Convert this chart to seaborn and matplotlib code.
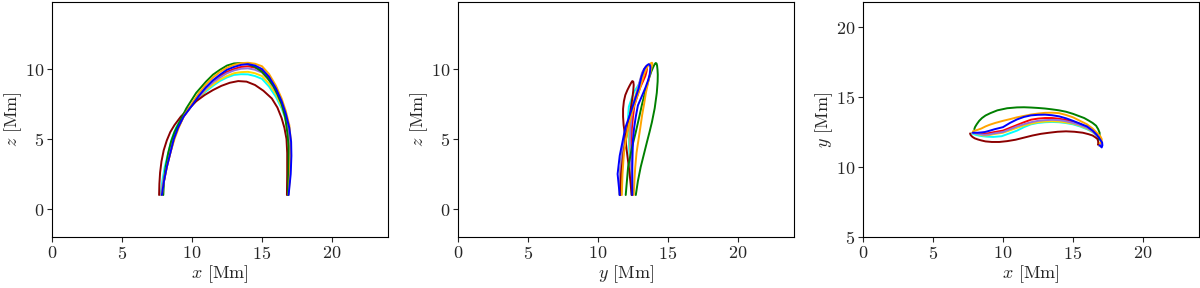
import matplotlib
matplotlib.use("Agg")
import matplotlib.pyplot as plt
import seaborn as sns

# ---- data: 3D field-line samples (Mm) ----
darkred_x = [7.65, 7.67, 7.72, 7.82, 7.98, 8.2, 8.45, 8.75, 9.2, 9.74, 10.3, 10.9, 11.5, 12.1, 12.7, 13.3, 13.9, 14.5, 15.1, 15.7, 16.1, 16.4, 16.6, 16.75, 16.8, 16.8, 16.78]
darkred_y = [12.4, 12.33, 12.25, 12.15, 12.05, 11.97, 11.9, 11.83, 11.79, 11.79, 11.85, 11.95, 12.1, 12.25, 12.37, 12.45, 12.52, 12.55, 12.52, 12.45, 12.35, 12.25, 12.12, 12.0, 11.82, 11.65, 11.6]
darkred_z = [1.0, 1.8, 2.6, 3.4, 4.2, 4.9, 5.5, 6.0, 6.6, 7.15, 7.7, 8.14, 8.5, 8.8, 9.02, 9.14, 9.1, 8.86, 8.45, 7.9, 7.25, 6.5, 5.8, 5.0, 4.0, 2.5, 1.0]

red_x = [7.85, 8.0, 8.2, 8.45, 8.7, 9.0, 9.4, 10.0, 10.5, 11.0, 11.5, 12.0, 12.5, 13.0, 13.5, 14.0, 14.5, 15.0, 15.5, 16.0, 16.4, 16.65, 16.9, 17.0, 17.02, 17.0, 16.85]
red_y = [12.45, 12.42, 12.39, 12.37, 12.38, 12.42, 12.5, 12.6, 12.8, 13.0, 13.2, 13.38, 13.46, 13.5, 13.5, 13.45, 13.36, 13.25, 13.08, 12.85, 12.58, 12.35, 12.05, 11.85, 11.7, 11.58, 11.55]
red_z = [1.0, 2.0, 3.0, 4.0, 5.0, 5.8, 6.6, 7.4, 8.05, 8.65, 9.1, 9.5, 9.8, 10.0, 10.15, 10.2, 10.1, 9.9, 9.3, 8.5, 7.6, 6.8, 5.8, 4.8, 3.8, 2.5, 1.0]

cyan_x = [7.75, 7.88, 8.05, 8.3, 8.55, 8.85, 9.3, 9.9, 10.45, 11.0, 11.5, 12.0, 12.5, 13.0, 13.5, 14.0, 14.5, 15.0, 15.5, 16.0, 16.4, 16.65, 16.9, 17.0, 17.02, 17.0, 16.85]
cyan_y = [12.4, 12.36, 12.3, 12.24, 12.2, 12.17, 12.15, 12.2, 12.4, 12.6, 12.85, 13.05, 13.15, 13.2, 13.22, 13.2, 13.14, 13.05, 12.9, 12.7, 12.5, 12.28, 12.0, 11.82, 11.68, 11.58, 11.55]
cyan_z = [1.0, 2.0, 3.0, 4.0, 5.0, 5.8, 6.6, 7.3, 7.9, 8.4, 8.8, 9.15, 9.4, 9.58, 9.63, 9.62, 9.5, 9.3, 8.75, 8.0, 7.2, 6.5, 5.5, 4.5, 3.5, 2.5, 1.0]

gold_x = [7.8, 7.95, 8.15, 8.4, 8.65, 8.95, 9.35, 10.0, 10.5, 11.0, 11.5, 12.0, 12.5, 13.0, 13.5, 14.0, 14.5, 15.0, 15.5, 16.0, 16.4, 16.65, 16.9, 17.0, 17.02, 17.0, 16.85]
gold_y = [12.45, 12.42, 12.36, 12.3, 12.25, 12.27, 12.35, 12.45, 12.62, 12.8, 12.96, 13.1, 13.2, 13.25, 13.27, 13.25, 13.18, 13.1, 12.95, 12.75, 12.52, 12.3, 12.05, 11.85, 11.7, 11.58, 11.55]
gold_z = [1.0, 2.0, 3.0, 4.0, 5.0, 5.8, 6.6, 7.4, 7.95, 8.5, 8.9, 9.25, 9.5, 9.7, 9.78, 9.8, 9.7, 9.5, 8.95, 8.2, 7.35, 6.6, 5.6, 4.6, 3.6, 2.5, 1.0]

purple_x = [7.8, 7.95, 8.15, 8.4, 8.65, 8.95, 9.35, 10.0, 10.5, 11.0, 11.5, 12.0, 12.5, 13.0, 13.5, 14.0, 14.5, 15.0, 15.5, 16.0, 16.4, 16.65, 16.9, 17.0, 17.02, 17.0, 16.85]
purple_y = [12.45, 12.42, 12.38, 12.34, 12.3, 12.32, 12.4, 12.5, 12.7, 12.9, 13.06, 13.2, 13.3, 13.35, 13.37, 13.35, 13.27, 13.15, 13.0, 12.8, 12.55, 12.3, 12.05, 11.85, 11.7, 11.58, 11.55]
purple_z = [1.0, 2.0, 3.0, 4.0, 5.0, 5.8, 6.6, 7.4, 8.0, 8.6, 9.05, 9.4, 9.7, 9.9, 10.02, 10.05, 9.95, 9.75, 9.2, 8.4, 7.5, 6.7, 5.7, 4.7, 3.7, 2.5, 1.0]

green_x = [7.95, 8.0, 8.12, 8.3, 8.5, 8.75, 9.1, 9.6, 10.3, 11.0, 11.5, 12.0, 12.5, 13.0, 13.5, 14.0, 14.5, 15.0, 15.4, 15.8, 16.1, 16.4, 16.65, 16.8, 16.9, 16.9, 16.85]
green_y = [12.7, 12.85, 13.05, 13.3, 13.5, 13.68, 13.85, 14.05, 14.2, 14.26, 14.27, 14.25, 14.22, 14.18, 14.12, 14.05, 13.95, 13.8, 13.65, 13.5, 13.33, 13.15, 12.95, 12.7, 12.45, 12.15, 11.98]
green_z = [1.0, 2.0, 3.0, 4.0, 4.8, 5.5, 6.2, 7.2, 8.3, 9.1, 9.6, 9.95, 10.25, 10.4, 10.43, 10.35, 10.15, 9.8, 9.35, 8.8, 8.2, 7.5, 6.6, 5.5, 4.5, 3.0, 1.0]

orange_x = [7.85, 8.0, 8.2, 8.45, 8.75, 9.05, 9.45, 10.0, 10.5, 11.0, 11.5, 12.0, 12.5, 13.0, 13.5, 14.0, 14.5, 15.0, 15.5, 16.0, 16.4, 16.7, 16.95, 17.05, 17.05, 17.0, 16.9]
orange_y = [12.55, 12.6, 12.66, 12.75, 12.9, 13.02, 13.15, 13.3, 13.42, 13.55, 13.65, 13.75, 13.82, 13.87, 13.88, 13.85, 13.72, 13.55, 13.3, 13.05, 12.75, 12.45, 12.2, 12.0, 11.85, 11.75, 11.7]
orange_z = [1.0, 2.0, 3.0, 4.0, 5.0, 5.8, 6.7, 7.55, 8.3, 8.9, 9.4, 9.8, 10.1, 10.3, 10.42, 10.45, 10.38, 10.2, 9.65, 8.8, 7.9, 7.0, 6.0, 5.0, 4.0, 2.5, 1.0]

blue_x = [7.85, 8.0, 8.2, 8.45, 8.7, 9.0, 9.4, 10.0, 10.5, 11.0, 11.5, 12.0, 12.5, 13.0, 13.5, 14.0, 14.5, 15.0, 15.5, 16.0, 16.4, 16.7, 16.95, 17.08, 17.1, 17.05, 16.9]
blue_y = [12.45, 12.45, 12.45, 12.47, 12.5, 12.58, 12.7, 12.85, 13.15, 13.4, 13.58, 13.69, 13.73, 13.74, 13.7, 13.62, 13.48, 13.3, 13.1, 12.9, 12.6, 12.3, 11.95, 11.75, 11.55, 11.4, 11.55]
blue_z = [1.0, 2.0, 3.0, 4.0, 5.0, 5.8, 6.6, 7.4, 8.1, 8.7, 9.2, 9.6, 9.95, 10.15, 10.3, 10.35, 10.25, 10.0, 9.45, 8.6, 7.7, 6.8, 5.8, 4.8, 3.8, 2.5, 1.0]

lines = [
    ("red", red_x, red_y, red_z),
    ("cyan", cyan_x, cyan_y, cyan_z),
    ("gold", gold_x, gold_y, gold_z),
    ("mediumpurple", purple_x, purple_y, purple_z),
    ("darkred", darkred_x, darkred_y, darkred_z),
    ("green", green_x, green_y, green_z),
    ("orange", orange_x, orange_y, orange_z),
    ("blue", blue_x, blue_y, blue_z),
]

sns.set_style("ticks")
plt.rcParams["font.family"] = "serif"
plt.rcParams["font.serif"] = ["cmr10", "DejaVu Serif"]
plt.rcParams["mathtext.fontset"] = "cm"
plt.rcParams["axes.formatter.use_mathtext"] = True
plt.rcParams["axes.unicode_minus"] = False

fig = plt.figure(figsize=(12, 2.88), dpi=100)
W, H = 1200.0, 288.0
aw, ah = 336 / W, 235 / H
bottom = 1 - 237 / H
ax1 = fig.add_axes([52 / W, bottom, aw, ah])
ax2 = fig.add_axes([458 / W, bottom, aw, ah])
ax3 = fig.add_axes([863 / W, bottom, aw, ah])

lw = 1.4
for color, lx, ly, lz in lines:
    sns.lineplot(x=lx, y=lz, sort=False, estimator=None, color=color, lw=lw, ax=ax1)
    sns.lineplot(x=ly, y=lz, sort=False, estimator=None, color=color, lw=lw, ax=ax2)
    sns.lineplot(x=lx, y=ly, sort=False, estimator=None, color=color, lw=lw, ax=ax3)

fs = 13
specs = [
    (ax1, r"$x$ [Mm]", r"$z$ [Mm]", (-2, 14.79), [0, 5, 10]),
    (ax2, r"$y$ [Mm]", r"$z$ [Mm]", (-2, 14.79), [0, 5, 10]),
    (ax3, r"$x$ [Mm]", r"$y$ [Mm]", (5, 21.79), [5, 10, 15, 20]),
]
for ax, xl, yl, ylim, yt in specs:
    ax.set_xlim(0, 24)
    ax.set_ylim(*ylim)
    ax.set_xticks([0, 5, 10, 15, 20])
    ax.set_yticks(yt)
    ax.set_xlabel(xl, fontsize=fs, labelpad=1)
    ax.set_ylabel(yl, fontsize=fs, labelpad=1)
    ax.tick_params(labelsize=fs, direction="out", length=3.5, width=0.8, pad=2)
    for sp in ax.spines.values():
        sp.set_visible(True)
        sp.set_color("black")
        sp.set_linewidth(0.8)

fig.savefig("out.png", dpi=100)
